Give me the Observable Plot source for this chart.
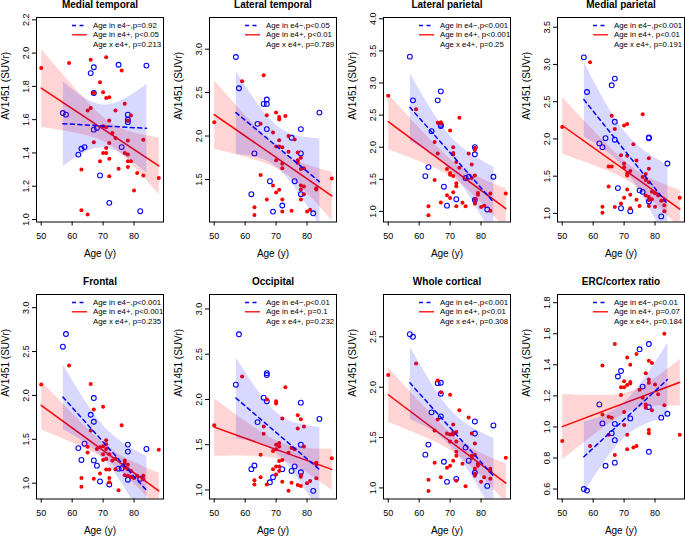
<!DOCTYPE html>
<html><head><meta charset="utf-8">
<script src="https://cdn.jsdelivr.net/npm/d3@7"></script>
<script src="https://cdn.jsdelivr.net/npm/@observablehq/plot@0.6"></script>
<style>
html,body{margin:0;padding:0;overflow:hidden;background:#fff;width:685px;height:536px}
#root{position:relative;width:685px;height:536px}
.panel{position:absolute}
.panel svg{display:block}
</style></head><body><div id="root"></div>
<script>
const FONT = '"Liberation Sans", Arial, Helvetica, sans-serif';
const xTicks = [50, 60, 70, 80];
const xDomain = [48.48, 89.52];

const titles = ["Medial temporal", "Lateral temporal", "Lateral parietal", "Medial parietal",
  "Frontal", "Occipital", "Whole cortical", "ERC/cortex ratio"];
const legendNeg = ["Age in e4−,p=0.92", "Age in e4−,p<0.05", "Age in e4−,p<0.001", "Age in e4−,p<0.001",
  "Age in e4−,p<0.001", "Age in e4−,p<0.01", "Age in e4−,p<0.001", "Age in e4−,p<0.01"];
const legendPos = ["Age in e4+, p<0.05", "Age in e4+, p<0.01", "Age in e4+, p<0.001", "Age in e4+, p<0.01",
  "Age in e4+, p<0.001", "Age in e4+, p=0.1", "Age in e4+, p<0.01", "Age in e4+, p=0.07"];
const legendInt = ["Age x e4+, p=0.213", "Age x e4+, p=0.789", "Age x e4+, p=0.25", "Age x e4+, p=0.191",
  "Age x e4+, p=0.235", "Age x e4+, p=0.232", "Age x e4+, p=0.308", "Age x e4+, p=0.184"];
const yDomains = [[0.985, 2.214], [1.01, 3.365], [0.835, 4.02], [0.885, 3.63],
  [0.82, 3.15], [0.90, 3.16], [0.89, 2.92], [0.536, 1.853]];
const yTicks = [
  [1.0, 1.2, 1.4, 1.6, 1.8, 2.0, 2.2],
  [1.5, 2.0, 2.5, 3.0],
  [1.0, 1.5, 2.0, 2.5, 3.0, 3.5, 4.0],
  [1.0, 1.5, 2.0, 2.5, 3.0, 3.5],
  [1.0, 1.5, 2.0, 2.5, 3.0],
  [1.0, 1.5, 2.0, 2.5, 3.0],
  [1.0, 1.5, 2.0, 2.5],
  [0.6, 0.8, 1.0, 1.2, 1.4, 1.6, 1.8]
];

// [age, SUVr] for APOE e4- (blue) and e4+ (red)
const medialTemporalNeg = [[57,1.64],[58,1.63],[62,1.39],[63,1.425],[64,1.435],[66,1.88],[67,1.915],[67,1.76],[67,1.54],[68,1.55],[69,1.265],[72,1.10],[75,1.93],[76,1.435],[78,1.63],[78,1.60],[78,1.585],[82,1.05],[84,1.925]];
const medialTemporalPos = [[50,1.91],[59,1.94],[66,1.96],[71,1.975],[76,1.895],[69,1.825],[70,1.765],[71,1.73],[72,1.735],[67,1.76],[66,1.67],[65,1.655],[74,1.655],[77,1.695],[79,1.625],[78,1.595],[72,1.595],[71,1.555],[70,1.56],[73,1.52],[74,1.49],[78,1.475],[83,1.48],[67,1.465],[72,1.46],[71,1.43],[70,1.40],[71,1.40],[77,1.40],[78,1.39],[72,1.365],[69,1.35],[78,1.35],[79,1.35],[75,1.305],[78,1.315],[63,1.30],[81,1.28],[83,1.265],[72,1.26],[88,1.25],[80,1.175],[63,1.055],[65,1.03]];

const lateralTemporalNeg = [[57,2.91],[58,2.55],[62,1.33],[63,1.80],[64,2.14],[66,2.37],[67,2.42],[67,2.37],[67,2.08],[68,1.48],[69,1.13],[72,1.20],[75,1.98],[76,1.48],[78,2.08],[78,1.80],[78,1.33],[82,1.11],[84,2.27]];
const lateralTemporalPos = [[50,2.16],[59,2.63],[66,2.70],[65,2.14],[67,2.24],[70,2.27],[71,2.22],[71,2.19],[73,2.23],[69,2.04],[74,2.0],[76,1.96],[71,1.95],[70,1.88],[71,1.88],[72,1.87],[74,1.82],[77,1.81],[78,1.75],[77,1.72],[70,1.72],[77,1.69],[72,1.68],[72,1.63],[78,1.62],[79,1.63],[65,1.55],[69,1.43],[78,1.43],[79,1.42],[78,1.385],[83,1.385],[83,1.40],[88,1.51],[71,1.38],[70,1.35],[79,1.33],[67,1.27],[72,1.27],[78,1.27],[63,1.18],[63,1.09],[72,1.13],[75,1.14],[80,1.13],[81,1.15]];

const lateralParietalNeg = [[57,3.41],[58,2.73],[62,1.55],[63,1.69],[64,2.25],[66,2.73],[67,2.87],[67,2.35],[67,2.33],[68,1.385],[69,1.09],[72,1.19],[75,1.52],[76,1.54],[78,2.0],[78,1.89],[78,1.18],[82,1.03],[84,1.54]];
const lateralParietalPos = [[50,2.80],[59,2.59],[66,2.38],[67,2.365],[67,2.39],[73,2.46],[70,2.26],[65,2.08],[66,1.90],[71,2.0],[71,1.91],[71,1.885],[76,1.90],[78,1.99],[78,1.96],[77,1.73],[72,1.77],[73,1.68],[69,1.66],[70,1.60],[70,1.57],[71,1.55],[78,1.56],[77,1.52],[72,1.44],[72,1.39],[65,1.49],[71,1.30],[69,1.25],[70,1.21],[67,1.14],[74,1.135],[75,1.08],[72,1.08],[79,1.26],[79,1.285],[78,1.19],[78,1.14],[78,1.12],[81,1.09],[80,1.07],[83,1.28],[83,1.01],[88,1.28],[63,1.08],[63,0.94]];

const medialParietalNeg = [[57,3.095],[58,2.63],[62,1.94],[63,1.89],[64,2.01],[66,2.72],[67,2.81],[67,2.23],[67,1.99],[68,1.34],[69,1.07],[72,1.03],[75,1.31],[76,1.29],[78,2.02],[78,2.01],[78,1.16],[82,0.96],[84,1.67]];
const medialParietalPos = [[50,2.16],[59,3.03],[66,2.31],[67,2.135],[70,2.18],[71,2.20],[73,1.93],[76,2.33],[69,1.78],[70,1.67],[71,1.775],[74,1.71],[78,1.74],[78,1.60],[65,1.63],[66,1.63],[70,1.62],[71,1.54],[71,1.51],[72,1.57],[77,1.53],[76,1.49],[77,1.45],[78,1.42],[79,1.29],[80,1.27],[81,1.24],[77,1.24],[78,1.22],[78,1.18],[79,1.19],[82,1.17],[83,1.18],[83,1.11],[83,1.03],[65,1.36],[71,1.32],[72,1.25],[70,1.21],[69,1.135],[67,1.085],[74,1.185],[75,1.10],[78,1.10],[80,1.09],[72,1.07],[63,1.09],[63,1.01],[88,1.21]];

const frontalNeg = [[57,2.555],[58,2.70],[62,1.40],[63,1.265],[64,1.45],[66,1.78],[67,1.97],[67,1.70],[67,1.26],[68,1.20],[69,1.02],[72,0.985],[75,1.166],[76,1.17],[78,1.44],[78,1.36],[78,1.04],[82,1.05],[84,1.39]];
const frontalPos = [[50,2.125],[59,2.34],[66,2.13],[67,1.84],[70,1.87],[76,1.66],[66,1.60],[65,1.415],[65,1.35],[69,1.41],[70,1.42],[71,1.49],[71,1.445],[70,1.33],[71,1.39],[72,1.33],[71,1.275],[70,1.265],[73,1.26],[74,1.28],[77,1.26],[77,1.23],[78,1.21],[77,1.18],[78,1.16],[79,1.14],[74,1.16],[71,1.155],[72,1.155],[69,1.11],[72,1.06],[72,1.01],[67,1.05],[63,1.06],[63,0.96],[75,0.92],[78,1.085],[79,1.07],[80,1.06],[81,1.085],[83,1.085],[83,1.045],[77,1.09],[88,1.38],[68,1.39]];

const occipitalNeg = [[57,2.163],[58,2.72],[62,1.23],[63,1.27],[64,1.75],[66,2.02],[67,2.29],[67,2.27],[67,1.98],[68,1.085],[69,1.14],[72,1.23],[75,1.21],[76,1.26],[78,1.965],[78,1.50],[78,1.195],[82,0.99],[84,1.785]];
const occipitalPos = [[50,1.716],[59,2.255],[67,2.0],[70,1.98],[70,1.955],[73,2.134],[66,1.70],[66,1.62],[72,1.79],[77,1.825],[78,1.78],[77,1.68],[79,1.70],[71,1.52],[70,1.50],[74,1.41],[69,1.43],[70,1.45],[71,1.48],[75,1.465],[76,1.45],[79,1.48],[65,1.39],[72,1.33],[71,1.32],[70,1.26],[71,1.26],[69,1.23],[71,1.21],[83,1.30],[83,1.28],[88,1.35],[78,1.165],[78,1.147],[83,1.13],[72,1.09],[70,1.17],[75,1.08],[63,1.106],[63,1.06],[65,1.14],[67,1.06],[77,1.055],[78,1.044],[80,1.073],[81,1.10],[74,0.99]];

const wholeCorticalNeg = [[57,2.526],[58,2.50],[62,1.33],[63,1.43],[64,1.75],[66,2.04],[67,2.044],[67,1.935],[67,1.71],[68,1.26],[69,1.06],[72,1.09],[75,1.40],[76,1.27],[78,1.66],[78,1.54],[78,1.15],[82,1.02],[84,1.62]];
const wholeCorticalPos = [[50,2.12],[59,2.234],[66,2.067],[67,1.95],[70,1.925],[73,1.77],[66,1.68],[76,1.70],[65,1.57],[71,1.63],[71,1.55],[71,1.53],[69,1.54],[70,1.53],[72,1.555],[77,1.54],[78,1.44],[70,1.46],[72,1.46],[72,1.36],[72,1.32],[77,1.32],[77,1.30],[78,1.33],[79,1.24],[79,1.22],[78,1.19],[78,1.12],[78,1.14],[83,1.19],[83,1.165],[81,1.105],[80,1.06],[83,1.09],[88,1.30],[70,1.22],[69,1.20],[71,1.27],[74,1.24],[65,1.25],[67,1.105],[72,1.07],[75,1.016],[63,1.08],[63,0.97]];

const ercRatioNeg = [[57,0.60],[58,0.59],[62,1.145],[63,1.023],[64,0.75],[66,0.96],[67,0.915],[67,1.02],[67,0.77],[68,1.325],[69,1.36],[72,1.055],[75,1.50],[76,1.26],[78,1.534],[78,1.128],[78,0.84],[82,1.06],[84,1.085]];
const ercRatioPos = [[50,0.91],[59,0.878],[63,1.395],[63,1.08],[65,1.066],[66,1.06],[65,0.95],[67,1.534],[67,0.82],[69,1.205],[69,1.256],[70,1.295],[70,1.256],[71,1.27],[71,1.448],[72,1.40],[72,1.29],[72,1.28],[70,1.096],[70,1.013],[71,0.949],[71,0.857],[73,0.868],[74,0.878],[74,1.47],[77,1.346],[78,1.427],[78,1.305],[78,1.284],[79,1.412],[75,1.24],[76,1.188],[77,1.145],[77,1.124],[80,1.273],[81,1.21],[79,1.107],[78,0.98],[78,0.96],[83,1.60],[83,1.14],[88,0.95]];

const negSets = [medialTemporalNeg, lateralTemporalNeg, lateralParietalNeg, medialParietalNeg, frontalNeg, occipitalNeg, wholeCorticalNeg, ercRatioNeg];
const posSets = [medialTemporalPos, lateralTemporalPos, lateralParietalPos, medialParietalPos, frontalPos, occipitalPos, wholeCorticalPos, ercRatioPos];

const BLUE = "#0000ff", RED = "#ff0000";
const svgLefts = [0, 173, 347, 521];
const svgTops = [0, 277];

function makePanel(i) {
  const neg = negSets[i].map(([x, y]) => ({x, y}));
  const pos = posSets[i].map(([x, y]) => ({x, y}));
  const legend = (index, scales, values, dims) => {
    const g = d3.create("svg:g")
      .attr("font-family", FONT).attr("font-size", 7.8).attr("fill", "black")
      .attr("text-anchor", "start");
    const x0 = dims.marginLeft, y0 = dims.marginTop;
    const rows = [
      {t: legendNeg[i], c: BLUE, dash: "4,3.5"},
      {t: legendPos[i], c: RED, dash: null},
      {t: legendInt[i], c: null}
    ];
    rows.forEach((r, k) => {
      const yy = y0 + 8.5 + 9.3 * k;
      if (r.c) {
        const l = g.append("line").attr("x1", x0 + 36).attr("x2", x0 + 51)
          .attr("y1", yy).attr("y2", yy).attr("stroke", r.c).attr("stroke-width", 1.3);
        if (r.dash) l.attr("stroke-dasharray", r.dash);
      }
      g.append("text").attr("x", x0 + 57).attr("y", yy).attr("dy", "0.34em")
        .attr("text-anchor", "start").text(r.t);
    });
    return g.node();
  };
  return Plot.plot({
    width: 164, height: 268,
    marginLeft: 36, marginRight: 1, marginTop: 17, marginBottom: 46.5,
    style: {fontFamily: FONT, fontSize: "9px", background: "white", color: "black"},
    x: {domain: xDomain, label: null},
    y: {domain: yDomains[i], label: null},
    marks: [
      Plot.axisX({ticks: xTicks, tickSize: 4, tickPadding: 6.8, label: null, tickFormat: d => d, fontSize: 9}),
      Plot.axisY({ticks: yTicks[i], tickSize: 4, tickPadding: 4, tickRotate: -90, textAnchor: "middle", lineAnchor: "bottom", label: null, tickFormat: d3.format(".1f"), fontSize: 9}),
      Plot.dot(neg, {x: "x", y: "y", r: 2.4, stroke: BLUE, strokeWidth: 1.1, fill: "none"}),
      Plot.dot(pos, {x: "x", y: "y", r: 2, fill: RED, stroke: "none"}),
      Plot.linearRegressionY(pos, {x: "x", y: "y", stroke: RED, fill: RED, fillOpacity: 0.17, strokeWidth: 1.5, clip: true}),
      Plot.linearRegressionY(neg, {x: "x", y: "y", stroke: BLUE, fill: BLUE, fillOpacity: 0.15, strokeWidth: 1.5, strokeDasharray: "4,3.5", clip: true}),
      Plot.frame({stroke: "black", strokeWidth: 1}),
      Plot.text([titles[i]], {text: d => d, frameAnchor: "top", dy: -10, lineAnchor: "bottom", fontWeight: "bold", fontSize: 10}),
      Plot.text(["Age (y)"], {text: d => d, frameAnchor: "bottom", dy: 34.5, lineAnchor: "bottom", fontSize: 10}),
      Plot.text(["AV1451 (SUVr)"], {text: d => d, frameAnchor: "left", dx: -28, rotate: -90, lineAnchor: "bottom", fontSize: 10}),
      legend
    ]
  });
}

const root = document.getElementById("root");
for (let i = 0; i < 8; i++) {
  const div = document.createElement("div");
  div.className = "panel";
  div.style.left = svgLefts[i % 4] + "px";
  div.style.top = svgTops[Math.floor(i / 4)] + "px";
  div.appendChild(makePanel(i));
  root.appendChild(div);
}
</script></body></html>
